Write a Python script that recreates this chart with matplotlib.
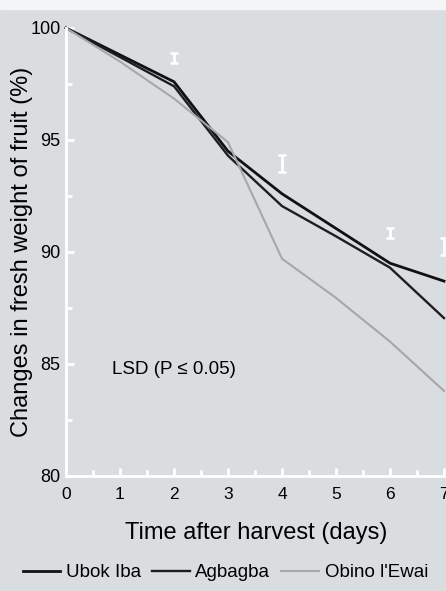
import numpy as np
import matplotlib.pyplot as plt

plt.rcParams['font.family'] = ['Liberation Sans', 'DejaVu Sans']

# dias apos a colheita
dias = [0, 1, 2, 3, 4, 5, 6, 7]
ubok_iba = [100, 98.8, 97.6, 94.5, 92.6, 91.05, 89.5, 88.7]
agbagba = [100, 98.7, 97.4, 94.3, 92.05, 90.7, 89.3, 87.05]
obino = [100, 98.5, 96.85, 94.9, 89.7, 87.95, 86.0, 83.8]

# barras LSD
lsd_x = [2, 4, 6, 7]
lsd_y = [98.65, 93.95, 90.85, 90.25]
lsd_err = [0.22, 0.38, 0.22, 0.38]

bg = '#dadde0'
fig = plt.figure(figsize=(4.46, 5.91), dpi=100, facecolor=bg)
fig.patches.append(plt.Rectangle((0, 1 - 9 / 591), 1, 9 / 591, transform=fig.transFigure,
                                 color='#f4f5f6', zorder=0))
ax = fig.add_axes([66 / 446, 1 - 476 / 591, 380 / 446, 448 / 591])
ax.set_facecolor(bg)

ax.plot(dias, ubok_iba, color='#111111', lw=2.0, clip_on=False, label='Ubok Iba')
ax.plot(dias, agbagba, color='#1e1e1e', lw=1.7, clip_on=False, label='Agbagba')
ax.plot(dias, obino, color='#a5a7a9', lw=1.5, clip_on=False, label="Obino l'Ewai")
ax.errorbar(lsd_x, lsd_y, yerr=lsd_err, fmt='none', ecolor='white', elinewidth=2,
            capsize=3, capthick=1.8, clip_on=False)

ax.set_xlim(0, 380 / 54)
ax.set_ylim(80, 100)
ax.set_xticks(range(8))
ax.set_xticks(np.arange(0.5, 7, 1), minor=True)
ax.set_yticks([80, 85, 90, 95, 100])
ax.set_yticks([82.5, 87.5, 92.5, 97.5], minor=True)
ax.set_yticklabels(['80', '85', '90', '95', '100'], fontsize=13)
ax.set_xticklabels([str(d) for d in range(8)], fontsize=12.5)
for s in ['top', 'right']:
    ax.spines[s].set_visible(False)
for s in ['left', 'bottom']:
    ax.spines[s].set_color('white')
    ax.spines[s].set_linewidth(2)
ax.tick_params(which='both', direction='in', color='white', width=2)
ax.tick_params(which='major', length=6, pad=4)
ax.tick_params(which='minor', length=4)
ax.tick_params(axis='x', pad=8)

ax.text(0.85, 84.75, 'LSD (P ≤ 0.05)', fontsize=13.5, va='center')
ax.set_xlabel('Time after harvest (days)', fontsize=17, labelpad=14)
ax.set_ylabel('Changes in fresh weight of fruit (%)', fontsize=17, labelpad=-2)

fig.legend(loc='lower center', bbox_to_anchor=(0.505, -0.012), ncol=3, frameon=False,
           fontsize=13.5, handlelength=2.0, handletextpad=0.3, columnspacing=0.6)

fig.savefig('out.png', dpi=100, facecolor=bg)
